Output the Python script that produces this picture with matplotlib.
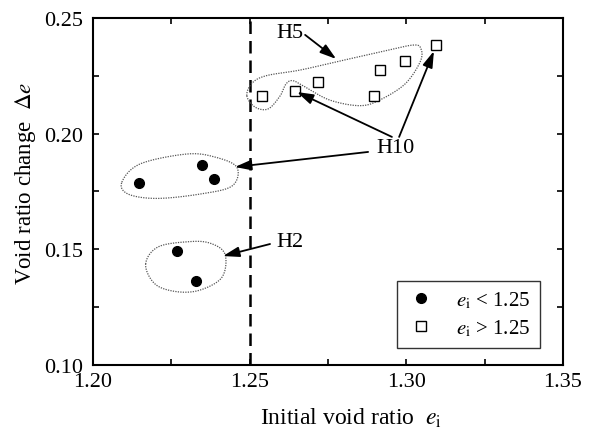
import numpy as np
import matplotlib
matplotlib.use("Agg")
import matplotlib.pyplot as plt
from matplotlib.ticker import MultipleLocator, FormatStrFormatter

plt.rcParams["font.family"] = ["Liberation Serif", "DejaVu Serif"]
plt.rcParams["mathtext.fontset"] = "stix"

# e_i < 1.25 (filled circles)
ei_low = [1.2147, 1.2348, 1.2386, 1.2268, 1.2329]
de_low = [0.1787, 0.1864, 0.1804, 0.1491, 0.1363]

# e_i > 1.25 (open squares)
ei_high = [1.2538, 1.2645, 1.2717, 1.2897, 1.2916, 1.2997, 1.3096]
de_high = [0.2164, 0.2186, 0.2225, 0.2164, 0.2275, 0.2314, 0.2383]

# dotted outlines grouping the specimens
outline_h10 = [(1.2092, 0.1790), (1.2150, 0.1869), (1.2299, 0.1912), (1.2389, 0.1899),
               (1.2459, 0.1855), (1.2444, 0.1774), (1.2342, 0.1739), (1.2203, 0.1720),
               (1.2112, 0.1739)]
outline_h2 = [(1.2168, 0.1436), (1.2207, 0.1510), (1.2304, 0.1533), (1.2373, 0.1527),
              (1.2421, 0.1480), (1.2412, 0.1380), (1.2342, 0.1324), (1.2267, 0.1317),
              (1.2198, 0.1350)]
outline_h5 = [(1.2491, 0.2164), (1.2508, 0.2219), (1.2554, 0.2251), (1.2661, 0.2275),
              (1.2788, 0.2314), (1.2916, 0.2353), (1.3021, 0.2383), (1.3047, 0.2366),
              (1.3044, 0.2310), (1.2996, 0.2215), (1.2916, 0.2146), (1.2852, 0.2121),
              (1.2756, 0.2145), (1.2677, 0.2202), (1.2638, 0.2229), (1.2616, 0.2215),
              (1.2597, 0.2163), (1.2559, 0.2107), (1.2517, 0.2115)]

# group labels and their arrows: (tail, head)
labels = {"H5": (1.2629, 0.2437), "H10": (1.2967, 0.1942), "H2": (1.2629, 0.1532)}
arrows = [((1.2677, 0.2427), (1.2776, 0.2323)),
          ((1.2954, 0.1986), (1.2651, 0.2180)),
          ((1.2977, 0.1986), (1.3088, 0.2357)),
          ((1.2878, 0.1921), (1.2453, 0.1856)),
          ((1.2565, 0.1523), (1.2415, 0.1471))]


def closed_spline(pts, n=30):
    # periodic Catmull-Rom through the outline vertices
    p = np.array(pts)
    k = len(p)
    out = []
    for i in range(k):
        p0, p1, p2, p3 = p[i - 1], p[i], p[(i + 1) % k], p[(i + 2) % k]
        t = np.linspace(0, 1, n, endpoint=False)[:, None]
        seg = 0.5 * ((2 * p1) + (-p0 + p2) * t + (2 * p0 - 5 * p1 + 4 * p2 - p3) * t ** 2
                     + (-p0 + 3 * p1 - 3 * p2 + p3) * t ** 3)
        out.append(seg)
    out = np.vstack(out)
    return np.vstack([out, out[:1]])


fig = plt.figure(figsize=(5.93, 4.35), dpi=100)
ax = fig.add_axes([93 / 593, 1 - 366 / 435, 470 / 593, 347 / 435])

ax.axvline(1.25, color="black", lw=1.8, ls=(0, (5, 2.8)))

for outline in (outline_h10, outline_h2, outline_h5):
    c = closed_spline(outline)
    ax.plot(c[:, 0], c[:, 1], color="#555555", lw=0.9, ls=(0, (1, 1)))

ax.plot(ei_low, de_low, "o", color="black", ms=7, label=r"$e_{\rm i}$ < 1.25")
ax.plot(ei_high, de_high, "s", mfc="white", mec="black", mew=1.0, ms=6.5,
        label=r"$e_{\rm i}$ > 1.25")

for name, pos in labels.items():
    ax.text(pos[0], pos[1], name, fontsize=16, ha="center", va="center")

arrow = dict(arrowstyle="-|>,head_length=0.7,head_width=0.22", color="black", lw=1.3,
             mutation_scale=14, shrinkA=0, shrinkB=0)
for tail, head in arrows:
    ax.annotate("", xy=head, xytext=tail, arrowprops=arrow)

ax.set_xlim(1.20, 1.35)
ax.set_ylim(0.10, 0.25)
ax.xaxis.set_major_locator(MultipleLocator(0.05))
ax.xaxis.set_minor_locator(MultipleLocator(0.025))
ax.yaxis.set_major_locator(MultipleLocator(0.05))
ax.yaxis.set_minor_locator(MultipleLocator(0.025))
ax.xaxis.set_major_formatter(FormatStrFormatter("%.2f"))
ax.yaxis.set_major_formatter(FormatStrFormatter("%.2f"))
ax.tick_params(which="both", direction="in", top=True, right=True, length=4, width=1.2,
               labelsize=16)
ax.tick_params(axis="x", pad=5)
ax.tick_params(axis="y", pad=7)
for s in ax.spines.values():
    s.set_linewidth(1.5)

ax.set_xlabel(r"Initial void ratio  $e_{\rm i}$", fontsize=17)
ax.xaxis.set_label_coords((351 - 93) / 470, -0.118)
ax.set_ylabel(r"Void ratio change  $\Delta e$", fontsize=16.5)
ax.yaxis.set_label_coords(-0.117, (366 - 183) / 347)

leg = ax.legend(loc="lower right", fontsize=15, frameon=True, fancybox=False,
                edgecolor="black", handletextpad=1.0, handlelength=1.4, borderpad=0.45,
                labelspacing=0.35, borderaxespad=0, bbox_to_anchor=(0.951, 0.049))
leg.get_frame().set_linewidth(1.0)

fig.savefig("out.png", dpi=100)
